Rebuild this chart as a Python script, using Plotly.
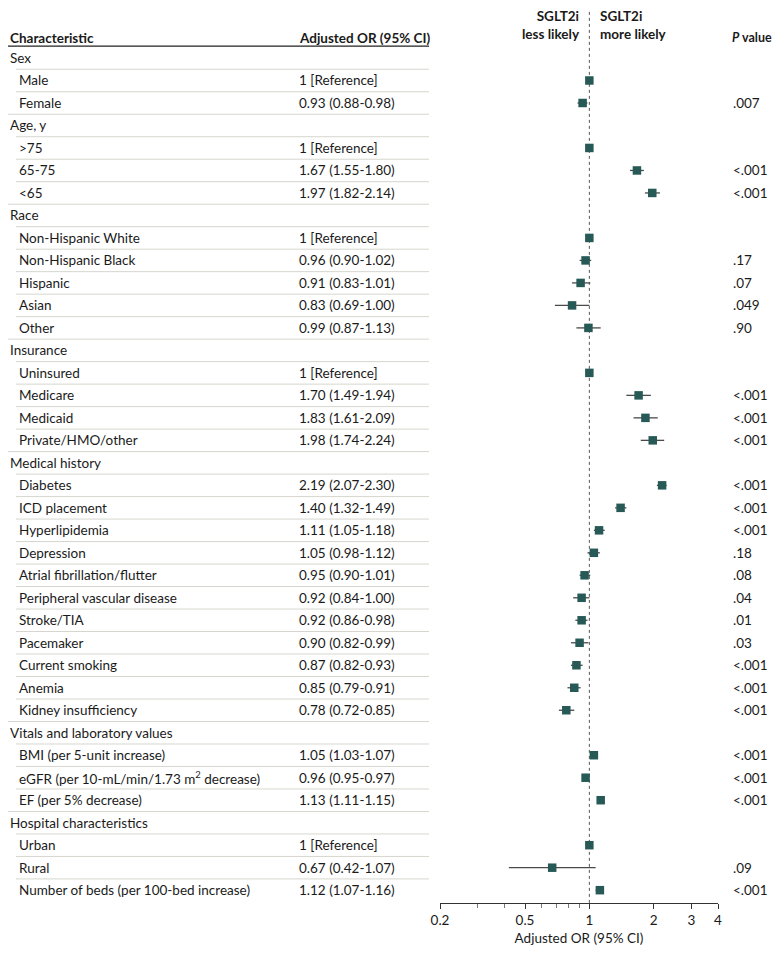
import plotly.graph_objects as go

labels = ["Sex", "Male", "Female",
          "Age, y", ">75", "65-75", "<65",
          "Race", "Non-Hispanic White", "Non-Hispanic Black", "Hispanic", "Asian", "Other",
          "Insurance", "Uninsured", "Medicare", "Medicaid", "Private/HMO/other",
          "Medical history", "Diabetes", "ICD placement", "Hyperlipidemia", "Depression",
          "Atrial fibrillation/flutter", "Peripheral vascular disease", "Stroke/TIA", "Pacemaker",
          "Current smoking", "Anemia", "Kidney insufficiency",
          "Vitals and laboratory values", "BMI (per 5-unit increase)",
          "eGFR (per 10-mL/min/1.73 m<sup>2</sup> decrease)", "EF (per 5% decrease)",
          "Hospital characteristics", "Urban", "Rural", "Number of beds (per 100-bed increase)"]
is_group = [True, False, False,
            True, False, False, False,
            True, False, False, False, False, False,
            True, False, False, False, False,
            True, False, False, False, False, False, False, False, False, False, False, False,
            True, False, False, False,
            True, False, False, False]
or_vals = [None, 1, 0.93,
           None, 1, 1.67, 1.97,
           None, 1, 0.96, 0.91, 0.83, 0.99,
           None, 1, 1.70, 1.83, 1.98,
           None, 2.19, 1.40, 1.11, 1.05, 0.95, 0.92, 0.92, 0.90, 0.87, 0.85, 0.78,
           None, 1.05, 0.96, 1.13,
           None, 1, 0.67, 1.12]
lo_vals = [None, None, 0.88,
           None, None, 1.55, 1.82,
           None, None, 0.90, 0.83, 0.69, 0.87,
           None, None, 1.49, 1.61, 1.74,
           None, 2.07, 1.32, 1.05, 0.98, 0.90, 0.84, 0.86, 0.82, 0.82, 0.79, 0.72,
           None, 1.03, 0.95, 1.11,
           None, None, 0.42, 1.07]
hi_vals = [None, None, 0.98,
           None, None, 1.80, 2.14,
           None, None, 1.02, 1.01, 1.00, 1.13,
           None, None, 1.94, 2.09, 2.24,
           None, 2.30, 1.49, 1.18, 1.12, 1.01, 1.00, 0.98, 0.99, 0.93, 0.91, 0.85,
           None, 1.07, 0.97, 1.15,
           None, None, 1.07, 1.16]
p_vals = ["", "", ".007",
          "", "", "<.001", "<.001",
          "", "", ".17", ".07", ".049", ".90",
          "", "", "<.001", "<.001", "<.001",
          "", "<.001", "<.001", "<.001", ".18", ".08", ".04", ".01", ".03", "<.001", "<.001", "<.001",
          "", "<.001", "<.001", "<.001",
          "", "", ".09", "<.001"]
major_ticks = [0.2, 0.5, 1, 2, 3, 4]
major_text = ["0.2", "0.5", "1", "2", "3", "4"]
minor_ticks = [0.3, 0.4, 0.6, 0.7, 0.8, 0.9]

FONT = "Lato"
FS = 13.5
TXT = "#1a1a1a"
MARK = "#275a57"
# page body has an 8px margin; figure sized to fill the rest of the window
OFF = 8
W, H = 780 - OFF, 955 - OFF
n = len(labels)

fig = go.Figure()

# CI lines
cx, cy = [], []
for i in range(n):
    if lo_vals[i] is not None:
        cx += [lo_vals[i], hi_vals[i], None]
        cy += [i, i, None]
fig.add_trace(go.Scatter(x=cx, y=cy, mode="lines",
                         line=dict(color="#4a4a4a", width=1.3),
                         hoverinfo="skip", showlegend=False))
# markers
mx = [v for v in or_vals if v is not None]
my = [i for i, v in enumerate(or_vals) if v is not None]
fig.add_trace(go.Scatter(x=mx, y=my, mode="markers",
                         marker=dict(symbol="square", size=8.5, color=MARK,
                                     line=dict(width=0)),
                         showlegend=False))

anns = []
shapes = []


def px(x):
    return max(x - OFF, 0) / W


for i in range(n):
    anns.append(dict(x=px(5 if is_group[i] else 17), y=i, xref="paper", yref="y",
                     text=labels[i], showarrow=False, xanchor="left", yanchor="middle",
                     font=dict(family=FONT, size=FS, color=TXT)))
    if or_vals[i] is not None:
        if lo_vals[i] is None:
            t = "1 [Reference]"
        else:
            t = f"{or_vals[i]:.2f} ({lo_vals[i]:.2f}-{hi_vals[i]:.2f})"
        anns.append(dict(x=px(297), y=i, xref="paper", yref="y", text=t,
                         showarrow=False, xanchor="left", yanchor="middle",
                         font=dict(family=FONT, size=FS, color=TXT)))
    if p_vals[i]:
        anns.append(dict(x=px(731), y=i, xref="paper", yref="y", text=p_vals[i],
                         showarrow=False, xanchor="left", yanchor="middle",
                         font=dict(family=FONT, size=FS, color=TXT)))
    if i < n - 1:
        x0 = 5 if is_group[i + 1] else 16
        shapes.append(dict(type="line", xref="paper", yref="y",
                           x0=px(x0), x1=px(429), y0=i + 0.5, y1=i + 0.5,
                           line=dict(color="#d6d6cf", width=1)))

# headers
hy = -0.89
anns.append(dict(x=px(5), y=hy, xref="paper", yref="y", text="<b>Characteristic</b>",
                 showarrow=False, xanchor="left", yanchor="middle",
                 font=dict(family=FONT, size=FS, color=TXT)))
anns.append(dict(x=px(297), y=hy, xref="paper", yref="y", text="<b>Adjusted OR (95% CI)</b>",
                 showarrow=False, xanchor="left", yanchor="middle",
                 font=dict(family=FONT, size=FS, color=TXT)))
anns.append(dict(x=px(730), y=hy, xref="paper", yref="y", text="<b><i>P</i> value</b>",
                 showarrow=False, xanchor="left", yanchor="middle",
                 font=dict(family=FONT, size=12.5, color=TXT)))
anns.append(dict(x=px(582), y=-1.45, xref="paper", yref="y",
                 text="<b>SGLT2i<br>less likely</b>", align="right",
                 showarrow=False, xanchor="right", yanchor="middle",
                 font=dict(family=FONT, size=FS, color=TXT)))
anns.append(dict(x=px(598), y=-1.45, xref="paper", yref="y",
                 text="<b>SGLT2i<br>more likely</b>", align="left",
                 showarrow=False, xanchor="left", yanchor="middle",
                 font=dict(family=FONT, size=FS, color=TXT)))
shapes.append(dict(type="line", xref="paper", yref="y", x0=px(5), x1=px(429),
                   y0=-0.53, y1=-0.53, line=dict(color="#222", width=1.2)))
# reference line
shapes.append(dict(type="line", xref="x", yref="y", x0=1, x1=1,
                   y0=-2.05, y1=37.57, layer="below",
                   line=dict(color="#555", width=1, dash="dot")))

fig.update_layout(
    width=W, height=H,
    margin=dict(l=0, r=0, t=0, b=52, autoexpand=False),
    plot_bgcolor="white", paper_bgcolor="white",
    annotations=anns, shapes=shapes,
    xaxis=dict(type="log", domain=[(440 - OFF) / W, (718 - OFF) / W],
               range=[-0.69897, 0.60206],
               tickmode="array", tickvals=major_ticks, ticktext=major_text,
               ticks="outside", ticklen=5, tickcolor="#333",
               minor=dict(tickvals=minor_ticks, ticks="outside", ticklen=4,
                          tickcolor="#777", showgrid=False),
               showline=True, linecolor="#333", linewidth=1,
               showgrid=False, zeroline=False,
               tickfont=dict(family=FONT, size=FS, color=TXT),
               title=dict(text="Adjusted OR (95% CI)", standoff=6,
                          font=dict(family=FONT, size=FS, color=TXT))),
    yaxis=dict(range=[37.57, -2.223], visible=False, showgrid=False, zeroline=False),
)
fig.write_html("out.html")
